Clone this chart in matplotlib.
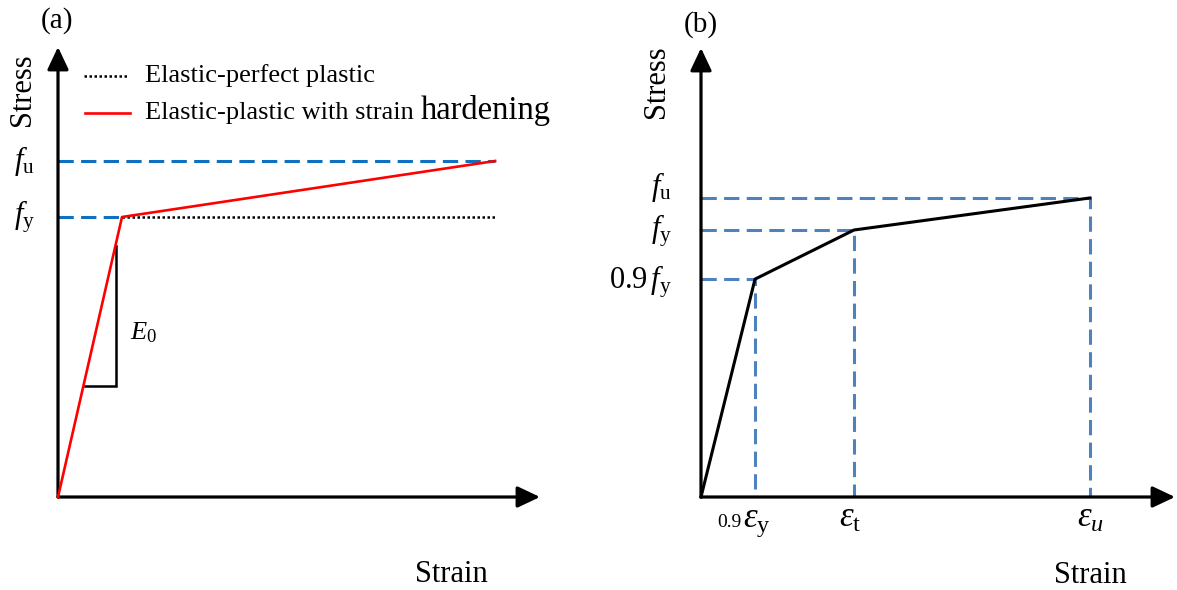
import matplotlib
matplotlib.use('Agg')
import matplotlib.pyplot as plt

plt.rcParams['font.family'] = 'Liberation Serif'
plt.rcParams['mathtext.fontset'] = 'custom'
plt.rcParams['mathtext.rm'] = 'Liberation Serif'
plt.rcParams['mathtext.it'] = 'Liberation Serif:italic'

# (a) bilinear models, stress normalised by f_y
strain_a = [0.0, 1.0, 6.83]
stress_hard = [0.0, 1.0, 1.2]
stress_perf = [1.0, 1.0]
fy_a, fu_a = 1.0, 1.2

# (b) trilinear model
strain_b = [0.0, 0.353, 1.0, 2.542]
stress_b = [0.0, 0.816, 1.0, 1.12]
tick_b = ['0.9', r'$ε_{\mathrm{y}}$', r'$ε_{\mathrm{t}}$', r'$ε_{u}$']
level_b = ['', r'$0.9\,f_{\mathrm{y}}$', r'$f_{\mathrm{y}}$', r'$f_{\mathrm{u}}$']

W, H = 1177, 590
fig = plt.figure(figsize=(W / 100, H / 100), dpi=100)

BLUE_A = '#1070c0'
BLUE_B = '#4f81bd'
dash = (0, (5, 2.4))


def arrow_axes(ax, xmax, ymax):
    kw = dict(arrowstyle='-|>,head_length=0.55,head_width=0.26', lw=2.3,
              color='k', mutation_scale=25, shrinkA=0, shrinkB=0)
    ax.annotate('', xy=(xmax, 0), xytext=(0, 0), arrowprops=kw)
    ax.annotate('', xy=(0, ymax), xytext=(0, 0), arrowprops=kw)


# ---------------- (a) ----------------
xa, ya = 64.0, 280.0  # px per unit
ax1 = fig.add_axes([58 / W, (H - 497) / H, (540 - 58) / W, (497 - 47) / H])
xmax_a, ymax_a = (540 - 58) / xa, (497 - 47) / ya
ax1.set_xlim(0, xmax_a)
ax1.set_ylim(0, ymax_a)
ax1.axis('off')

ax1.plot([0, strain_a[2]], [fu_a, fu_a], color=BLUE_A, lw=2.2, ls=dash, clip_on=False)
ax1.plot([0, strain_a[1]], [fy_a, fy_a], color=BLUE_A, lw=2.2, ls=dash, clip_on=False)
ax1.plot(strain_a[1:], stress_perf, color='k', lw=1.8, ls=(0, (1, 1)), clip_on=False)
ax1.plot(strain_a, stress_hard, color='#ff0000', lw=1.9, clip_on=False, zorder=4)

# slope triangle
ax1.plot([0.42, 0.906, 0.906], [0.396, 0.396, 0.896], color='k', lw=1.8,
         solid_joinstyle='miter', clip_on=False)
ax1.text(1.33, 0.586, r'$E_{\mathrm{0}}$', fontsize=19, ha='center', va='center')

arrow_axes(ax1, xmax_a, ymax_a)

ax1.text(-0.52, fu_a, r'$f_{\mathrm{u}}$', fontsize=22, ha='center', va='center')
ax1.text(-0.52, fy_a, r'$f_{\mathrm{y}}$', fontsize=22, ha='center', va='center')
ax1.text(-0.55, 1.454, 'Stress', fontsize=22, rotation=90, ha='center', va='center')
ax1.text(-0.02, 1.70, '(a)', fontsize=21, ha='center', va='center')
ax1.text(6.14, (497 - 582) / ya, 'Strain', fontsize=22, ha='center', va='baseline')

# legend
ax1.plot([0.41, 1.09], [1.504, 1.504], color='k', lw=1.8, ls=(0, (1, 1)), clip_on=False)
ax1.text(1.36, 1.504, 'Elastic-perfect plastic', fontsize=19, ha='left', va='center')
ax1.plot([0.42, 1.125], [1.371, 1.371], color='#ff0000', lw=1.9, clip_on=False)
t1 = ax1.text(1.36, 1.371, 'Elastic-plastic with strain', fontsize=19,
              ha='left', va='center')
ax1.annotate('hardening', xy=(1, 0), xycoords=t1, xytext=(5, -1),
             textcoords='offset points', fontsize=23.5, ha='left', va='bottom')

# ---------------- (b) ----------------
xb, yb = 153.0, 267.0
ax2 = fig.add_axes([701 / W, (H - 497) / H, (1175 - 701) / W, (497 - 48) / H])
xmax_b, ymax_b = (1175 - 701) / xb, (497 - 48) / yb
ax2.set_xlim(0, xmax_b)
ax2.set_ylim(0, ymax_b)
ax2.axis('off')

for e, s in zip(strain_b[1:], stress_b[1:]):
    ax2.plot([0, e, e], [s, s, 0], color=BLUE_B, lw=2.2, ls=dash, clip_on=False)
ax2.plot(strain_b, stress_b, color='k', lw=2.2, clip_on=False, zorder=4)

arrow_axes(ax2, xmax_b, ymax_b)

# stress levels
lab_y = [None, 0.816 - 0.008, 1.0 - 0.004, 1.12 + 0.04]
for s, lab in zip(lab_y[1:], level_b[1:]):
    ax2.text(-0.19, s, lab, fontsize=22, ha='right', va='center')

# strain marks
base = (497 - 527) / yb
ax2.text((741 - 701) / xb, base, tick_b[0], fontsize=14, ha='right', va='baseline')
ax2.text((743 - 701) / xb, base, tick_b[1], fontsize=25, ha='left', va='baseline')
ax2.text((850 - 701) / xb, base, tick_b[2], fontsize=25, ha='center', va='baseline')
ax2.text((1090 - 701) / xb, base, tick_b[3], fontsize=25, ha='center', va='baseline')

ax2.text(-0.288, 1.554, 'Stress', fontsize=22, rotation=90, ha='center', va='center')
ax2.text(0.0, 1.77, '(b)', fontsize=21, ha='center', va='center')
ax2.text((1090 - 701) / xb, (497 - 583) / yb, 'Strain', fontsize=22,
         ha='center', va='baseline')

fig.savefig('out.png', dpi=100)
